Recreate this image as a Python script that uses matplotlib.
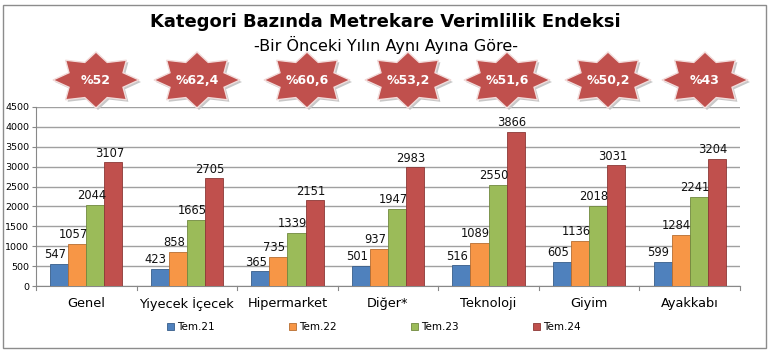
import numpy as np
import matplotlib
matplotlib.use('Agg')
import matplotlib.pyplot as plt
from matplotlib.patches import Polygon, Rectangle

categories = ['Genel', 'Yiyecek İçecek', 'Hipermarket', 'Diğer*', 'Teknoloji', 'Giyim', 'Ayakkabı']
series_names = ['Tem.21', 'Tem.22', 'Tem.23', 'Tem.24']
tem21 = [547, 423, 365, 501, 516, 605, 599]
tem22 = [1057, 858, 735, 937, 1089, 1136, 1284]
tem23 = [2044, 1665, 1339, 1947, 2550, 2018, 2241]
tem24 = [3107, 2705, 2151, 2983, 3866, 3031, 3204]
badges = ['%52', '%62,4', '%60,6', '%53,2', '%51,6', '%50,2', '%43']

colors = ['#4F81BD', '#F79646', '#9BBB59', '#C0504D']
edges = ['#385D8A', '#B66D31', '#71893F', '#8C3836']

W, H = 771, 353
fig = plt.figure(figsize=(W / 100, H / 100), dpi=100)
plt.rcParams['font.family'] = 'DejaVu Sans'

# outer frame
fig.patches.append(Rectangle((3 / W, 5 / H), 763 / W, 343 / H, transform=fig.transFigure,
                             fill=False, edgecolor='#8C8C8C', lw=1.0))

ax = fig.add_axes([36 / W, 1 - 286 / H, 704 / W, 179 / H])
x = np.arange(len(categories))
bw = 0.18
for i, vals in enumerate([tem21, tem22, tem23, tem24]):
    pos = x + (i - 1.5) * bw
    bars = ax.bar(pos, vals, bw, color=colors[i], edgecolor=edges[i], lw=0.6,
                  label=series_names[i], zorder=3)
    for b, v in zip(bars, vals):
        ax.text(b.get_x() + b.get_width() / 2 - 0.04, v + 70, str(v), ha='center', va='bottom',
                fontsize=8.3, color='#111111', zorder=4)

ax.set_xlim(-0.5, len(categories) - 0.5)
ax.set_ylim(0, 4500)
ax.set_yticks(range(0, 4501, 500))
ax.tick_params(axis='y', labelsize=6.8, length=3, color='#888888', pad=2)
ax.set_xticks(x)
ax.set_xticklabels(categories, fontsize=9.3)
ax.tick_params(axis='x', length=0, pad=8)
for sep in np.arange(-0.5, len(categories), 1.0):
    ax.plot([sep, sep], [0, -90], color='#888888', lw=0.8, clip_on=False, zorder=2)
ax.yaxis.grid(True, color='#A0A0A0', lw=1.0, zorder=0)
for s in ['top', 'right']:
    ax.spines[s].set_visible(False)
ax.spines['left'].set_color('#888888')
ax.spines['bottom'].set_color('#888888')

leg = fig.legend(loc='center', bbox_to_anchor=(0.485, 1 - 327 / H), ncol=4, frameon=False,
                 fontsize=7.5, handlelength=0.6, handleheight=0.6, handletextpad=0.3,
                 columnspacing=7.2)

fig.text(0.5, 1 - 22 / H, 'Kategori Bazında Metrekare Verimlilik Endeksi', ha='center', va='center',
         fontsize=13, fontweight='bold', color='#000000')
fig.text(0.5, 1 - 45 / H, '-Bir Önceki Yılın Aynı Ayına Göre-', ha='center', va='center',
         fontsize=11.5, color='#000000')

# star badges
star_x = [96, 197, 307, 408, 507, 608, 705]
star_y = 80
rx, ry = 43, 28
inner = 0.68
ang = np.linspace(0, 2 * np.pi, 16, endpoint=False) + np.pi / 2
rad = np.where(np.arange(16) % 2 == 0, 1.0, inner)
for cx, lab in zip(star_x, badges):
    px = cx + rx * rad * np.cos(ang)
    py = star_y - ry * rad * np.sin(ang)
    shadow = Polygon(np.column_stack([(px + 2) / W, 1 - (py + 2) / H]), closed=True,
                     transform=fig.transFigure, facecolor='#C8C8C8', edgecolor='none')
    star = Polygon(np.column_stack([px / W, 1 - py / H]), closed=True, transform=fig.transFigure,
                   facecolor='#C0504D', edgecolor='#F2DCDB', lw=1.0)
    fig.patches.append(shadow)
    fig.patches.append(star)
    fig.text(cx / W, 1 - star_y / H, lab, ha='center', va='center', fontsize=9,
             fontweight='bold', color='white')

fig.savefig('out.png', dpi=100)
